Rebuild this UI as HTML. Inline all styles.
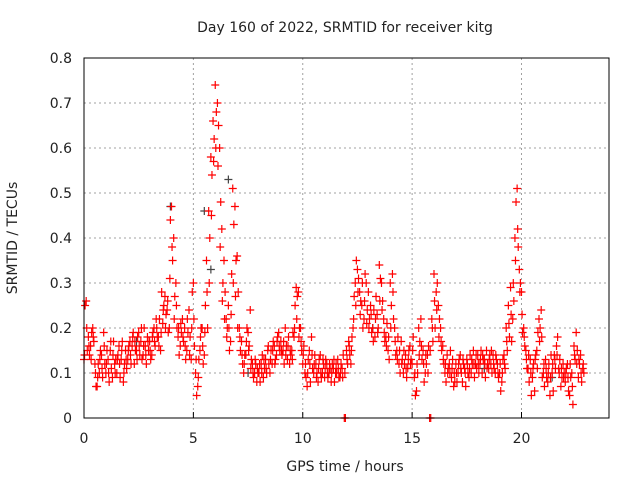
<!DOCTYPE html>
<html><head><meta charset="utf-8"><style>
body{margin:0;background:#fff;}
svg text{font-family:"DejaVu Sans","Liberation Sans",sans-serif;font-size:14px;fill:#222;}
</style></head><body>
<svg id="chart" width="640" height="480" xmlns="http://www.w3.org/2000/svg">
<rect width="640" height="480" fill="#fff"/>
<g id="grid"></g>
<g id="axes"></g>
<g id="pts"></g>
<rect x="84" y="58" width="525" height="360" fill="none" stroke="#000" stroke-width="1"/>
<text x="345" y="32" text-anchor="middle">Day 160 of 2022, SRMTID for receiver kitg</text>
<text x="345" y="471" text-anchor="middle">GPS time / hours</text>
<text transform="translate(17,238) rotate(-90)" text-anchor="middle">SRMTID / TECUs</text>
</svg>
<script>
const xTicks=[0,5,10,15,20];
const yTicks=[0,0.1,0.2,0.3,0.4,0.5,0.6,0.7,0.8];
const yTickLabels=["0","0.1","0.2","0.3","0.4","0.5","0.6","0.7","0.8"];
const series1=[
.13,.26,.18,.16,.2,.12,.07,.1,.14,.19,
.1,.13,.15,.09,.12,.1,.16,.13,.08,.15,
.13,.17,.16,.12,.15,.19,.17,.14,.16,.18,
.17,.14,.2,.22,.18,.15,.21,.27,.24,.2,
.47,.4,.3,.18,.16,.22,.2,.15,.24,.13,
.3,.1,.07,.15,.2,.14,.35,.46,.58,.66,
.74,.7,.6,.42,.35,.22,.25,.17,.51,.47,
.36,.2,.17,.1,.14,.19,.24,.12,.1,.08,
.1,.12,.09,.13,.15,.1,.12,.16,.14,.19,
.17,.15,.2,.13,.12,.15,.18,.29,.28,.2,
.12,.1,.07,.15,.18,.1,.12,.08,.14,.1,
.09,.12,.1,.08,.11,.1,.13,.09,.11,0,
.15,.17,.12,.2,.3,.33,.28,.25,.22,.3,
.28,.25,.2,.18,.23,.34,.3,.22,.18,.15,
.3,.32,.2,.15,.12,.17,.1,.14,.11,.16,
.12,.09,.06,.2,.22,.15,.1,.14,0,.22,
.32,.28,.25,.2,.16,.1,.14,.12,.09,.07,
.12,.1,.14,.08,.11,.13,.09,.1,.15,.12,
.14,.12,.1,.13,.15,.11,.12,.14,.1,.12,
.1,.08,.14,.2,.25,.29,.22,.4,.51,.33,
.28,.2,.15,.11,.13,.09,.06,.15,.22,.24,
.1,.13,.08,.05,.1,.14,.16,.11,.07,.12,
.08,.12,.05,.1,.16,.19,.09,.14,.11];
const series2=[
.25,.15,.14,.19,.17,.07,.12,.15,.09,.12,
.15,.08,.11,.17,.13,.14,.09,.17,.12,.11,
.16,.12,.19,.15,.18,.14,.13,.2,.12,.15,
.13,.19,.16,.18,.22,.28,.25,.23,.19,.44,
.35,.27,.2,.14,.19,.17,.13,.19,.18,.28,
.16,.05,.13,.2,.12,.25,.2,.4,.54,.62,
.68,.65,.48,.3,.28,.2,.15,.32,.43,.35,
.28,.15,.12,.14,.2,.16,.13,.09,.12,.1,
.08,.14,.11,.1,.12,.15,.17,.13,.18,.15,
.14,.12,.16,.18,.14,.19,.25,.27,.2,.15,
.16,.09,.13,.08,.11,.14,.1,.13,.09,.12,
.13,.09,.11,.12,.08,.1,.09,.12,.14,0,
.12,.14,.18,.27,.35,.31,.26,.2,.32,.24,
.22,.19,.24,.27,.2,.31,.26,.17,.21,.13,
.25,.22,.14,.18,.1,.13,.12,.09,.15,.13,
.18,.05,.1,.17,.13,.08,.12,.16,0,.17,
.2,.3,.22,.15,.12,.08,.11,.15,.13,.08,
.08,.13,.1,.12,.07,.1,.14,.12,.09,.11,
.1,.15,.13,.09,.12,.14,.1,.11,.13,.09,
.06,.13,.11,.15,.18,.17,.26,.48,.38,.3,
.19,.16,.11,.08,.05,.12,.14,.19,.2,.09,
.07,.09,.12,.14,.06,.11,.18,.13,.09,.1,
.11,.06,.09,.03,.13,.15,.12,.08,.1];
const series3=[
.14,.2,.16,.13,.18,.1,.09,.13,.11,.16,
.12,.1,.17,.14,.1,.13,.12,.15,.1,.13,
.15,.14,.18,.17,.13,.16,.2,.16,.14,.17,
.15,.18,.17,.2,.16,.19,.24,.2,.26,.31,
.38,.22,.25,.2,.21,.18,.16,.22,.14,.2,
.22,.13,.09,.18,.16,.19,.28,.3,.45,.57,
.6,.56,.38,.26,.22,.18,.2,.23,.3,.27,
.2,.18,.14,.12,.17,.15,.11,.1,.13,.11,
.12,.1,.13,.11,.16,.13,.15,.12,.17,.16,
.15,.17,.14,.16,.15,.13,.2,.22,.18,.17,
.14,.12,.1,.12,.14,.12,.09,.11,.1,.13,
.11,.1,.12,.1,.13,.12,.11,.1,.09,.1,
.13,.16,.15,.22,.25,.28,.23,.3,.26,.21,
.2,.23,.17,.22,.19,.26,.24,.19,.16,.18,
.2,.28,.17,.13,.15,.12,.15,.11,.13,.12,
.15,.1,.12,.14,.16,.12,.14,.1,.15,.2,
.26,.24,.18,.17,.13,.12,.1,.1,.11,.1,
.1,.12,.11,.13,.1,.12,.11,.13,.12,.14,
.12,.13,.14,.12,.11,.13,.15,.12,.14,.1,
.12,.1,.12,.17,.21,.23,.3,.35,.42,.28,
.23,.18,.13,.14,.1,.11,.13,.11,.17,.18,
.12,.11,.1,.09,.12,.13,.14,.1,.11,.09,
.1,.09,.12,.07,.14,.12,.13,.1,.12];
const grayTimes=[3.95,5.5,5.8,6.6,2.4,7.5,13.2,18.3,21.4];
const grayValues=[.47,.46,.33,.53,.17,.1,.2,.11,.09];
const X=t=>84+t*(525/24), Y=v=>418-v*450;
const NS="http://www.w3.org/2000/svg";
const grid=document.getElementById('grid'),axes=document.getElementById('axes'),pts=document.getElementById('pts');
function mk(tag,at,parent){const e=document.createElementNS(NS,tag);for(const k in at)e.setAttribute(k,at[k]);parent.appendChild(e);return e;}
xTicks.forEach(t=>{
 if(t>0){const g=mk('line',{x1:X(t),x2:X(t),y1:58,y2:418,stroke:'#a0a0a0','stroke-dasharray':'2,3'},grid);
 
 }
 const tk=mk('line',{x1:X(t),x2:X(t),y1:418,y2:412,stroke:'#000'},axes);
 
 
 const tx=mk('text',{x:X(t),y:443,'text-anchor':'middle'},axes);tx.textContent=t;
 
 
});
yTicks.forEach((v,i)=>{
 if(v>0&&v<0.8){const g=mk('line',{x1:84,x2:609,y1:Y(v),y2:Y(v),stroke:'#a0a0a0','stroke-dasharray':'2,3'},grid);
 
 }
 const tx=mk('text',{x:72,y:Y(v)+5,'text-anchor':'end'},axes);tx.textContent=yTickLabels[i];
 
 
});
function plus(t,v,col){
 const x=X(t),y=Y(v);
 const p=mk('path',{d:`M${x-4},${y}h8M${x},${y-4}v8`,stroke:col,'stroke-width':1.2,fill:'none'},pts);
 
 
}
grayTimes.forEach((t,i)=>plus(t,grayValues[i],'#444'));
series1.forEach((v,i)=>plus(i*0.1,v,'#f00'));
series2.forEach((v,i)=>plus(i*0.1+0.05,v,'#f00'));
series3.forEach((v,i)=>plus(i*0.1+0.025,v,'#f00'));
</script>
</body></html>
